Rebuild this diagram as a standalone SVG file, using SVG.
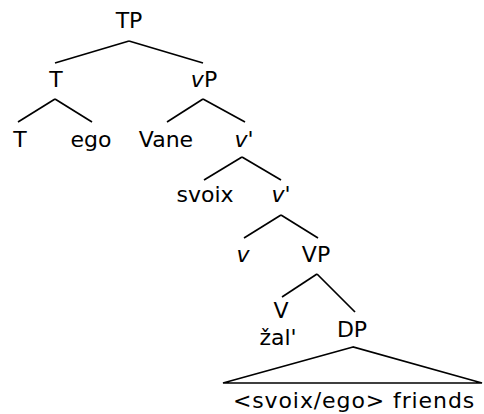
<svg xmlns="http://www.w3.org/2000/svg" width="484" height="414" viewBox="0 0 484 414">
<style>
text{font-family:"DejaVu Sans",sans-serif;font-size:22px;fill:#000;text-anchor:middle}
.i{font-style:italic}
line,polygon{stroke:#000;stroke-width:1.7;fill:none}
</style>
<rect width="484" height="414" fill="#fff"/>
<g id="connectors">
<line x1="129" y1="41" x2="55" y2="63"/>
<line x1="129" y1="41" x2="203" y2="63"/>
<line x1="55" y1="99" x2="18" y2="122"/>
<line x1="55" y1="99" x2="92" y2="122"/>
<line x1="203" y1="99" x2="167" y2="122"/>
<line x1="203" y1="99" x2="245" y2="122"/>
<line x1="242" y1="157" x2="204" y2="180"/>
<line x1="242" y1="157" x2="281" y2="180"/>
<line x1="281" y1="215" x2="244" y2="238"/>
<line x1="281" y1="215" x2="318" y2="238"/>
<line x1="317" y1="274" x2="282" y2="297"/>
<line x1="317" y1="274" x2="355" y2="312"/>
<polygon points="353,347 223,383 482,383"/>
</g>
<g id="TP"><text x="129" y="28">TP</text></g>
<g id="T1"><text x="56" y="87">T</text></g>
<g id="vP"><text x="204" y="87"><tspan class="i">v</tspan>P</text></g>
<g id="T2"><text x="20" y="147">T</text></g>
<g id="ego"><text x="91" y="147">ego</text></g>
<g id="Vane"><text x="166" y="147">Vane</text></g>
<g id="vbar1"><text x="244" y="147"><tspan class="i">v</tspan>'</text></g>
<g id="svoix"><text x="205" y="202">svoix</text></g>
<g id="vbar2"><text x="281" y="202"><tspan class="i">v</tspan>'</text></g>
<g id="v"><text x="243" y="262" class="i">v</text></g>
<g id="VP"><text x="316" y="262">VP</text></g>
<g id="V"><text x="281" y="318">V</text><text x="278" y="345">žal'</text></g>
<g id="DP"><text x="352" y="337">DP</text><text x="354" y="408" style="letter-spacing:0.9px">&lt;svoix/ego&gt; friends</text></g>
</svg>
